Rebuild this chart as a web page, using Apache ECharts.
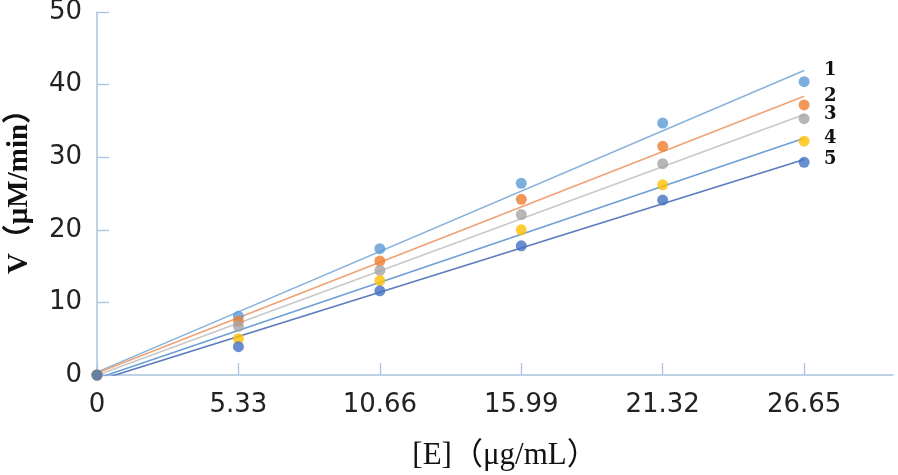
<!DOCTYPE html>
<html>
<head>
<meta charset="utf-8">
<script src="https://cdn.jsdelivr.net/npm/echarts@6/dist/echarts.min.js"></script>
<style>html,body{margin:0;padding:0;background:#fff}#c{width:898px;height:475px}</style>
</head>
<body>
<div id="c"></div>
<script>
// ---- data ----
const xValues = [0, 5.33, 10.66, 15.99, 21.32, 26.65];
const xTickLabels = ['0', '5.33', '10.66', '15.99', '21.32', '26.65'];
const yTickLabels = ['0', '10', '20', '30', '40', '50'];
const seriesNames = ['1', '2', '3', '4', '5'];
const s1 = [0, 8.1, 17.4, 26.4, 34.7, 40.4];
const s2 = [0, 7.4, 15.7, 24.2, 31.5, 37.2];
const s3 = [0, 6.7, 14.4, 22.1, 29.1, 35.3];
const s4 = [0, 5.0, 13.0, 20.0, 26.2, 32.2];
const s5 = [0, 3.9, 11.6, 17.8, 24.1, 29.3];

const allSeries = [s1, s2, s3, s4, s5];
const markerColors = ['#5B9BD5', '#ED7D31', '#A5A5A5', '#FFC000', '#4472C4'];
const lineColors = ['#86b2dc', '#eea276', '#c8c8c8', '#6c9fd6', '#5a7bbd'];

// linear least squares trendline (as the source's trendlines)
function fit(ys) {
  const n = xValues.length;
  const mx = xValues.reduce((a, b) => a + b, 0) / n;
  const my = ys.reduce((a, b) => a + b, 0) / n;
  let sxy = 0, sxx = 0;
  for (let i = 0; i < n; i++) {
    sxy += (xValues[i] - mx) * (ys[i] - my);
    sxx += (xValues[i] - mx) * (xValues[i] - mx);
  }
  const a = sxy / sxx;
  return { a: a, b: my - a * mx };
}

const series = [];
allSeries.forEach((ys, k) => {
  const f = fit(ys);
  const x0 = xValues[0], x1 = xValues[xValues.length - 1];
  series.push({
    name: seriesNames[k] + '_trend',
    type: 'line',
    data: [[x0, f.a * x0 + f.b], [x1, f.a * x1 + f.b]],
    symbol: 'none',
    silent: true,
    lineStyle: { color: lineColors[k], width: 1.6 },
    z: 2,
    endLabel: {
      show: true,
      formatter: () => seriesNames[k],
      distance: 20,
      color: '#111',
      fontFamily: 'DejaVu Serif',
      fontWeight: 'bold',
      fontSize: 18
    }
  });
});
allSeries.forEach((ys, k) => {
  series.push({
    name: seriesNames[k],
    type: 'scatter',
    data: xValues.map((x, i) => [x, ys[i]]),
    symbol: 'circle',
    symbolSize: 11,
    itemStyle: { color: markerColors[k] },
    z: 3
  });
});

const axisColor = '#a9c3e0';
const chart = echarts.init(document.getElementById('c'));
chart.setOption({
  animation: false,
  grid: { left: 97, right: 5, top: 12, bottom: 100, containLabel: false, outerBoundsMode: 'none' },
  xAxis: {
    type: 'value',
    min: 0,
    max: 30,
    interval: 5.33,
    name: '[E]（μg/mL）',
    nameLocation: 'middle',
    nameGap: 65,
    nameTextStyle: { fontFamily: '"Liberation Serif", "Noto Sans CJK SC"', fontSize: 31, color: '#111', padding: [0, 0, 0, 20] },
    axisLine: { lineStyle: { color: axisColor, width: 1.5 } },
    axisTick: { show: true, inside: true, length: 12, customValues: xValues, lineStyle: { color: axisColor, width: 1.3 } },
    axisLabel: {
      customValues: xValues,
      formatter: (v) => xTickLabels[xValues.indexOf(v)],
      margin: 17,
      fontSize: 26,
      fontFamily: 'DejaVu Sans',
      color: '#222'
    },
    splitLine: { show: false }
  },
  yAxis: {
    type: 'value',
    min: 0,
    max: 50,
    interval: 10,
    name: 'V（μM/min）',
    nameLocation: 'middle',
    nameGap: 63,
    nameRotate: 90,
    nameTextStyle: { fontFamily: '"Liberation Serif", "Noto Sans CJK SC"', fontWeight: 'bold', fontSize: 29, color: '#111', padding: [0, 0, 0, 18] },
    axisLine: { show: true, lineStyle: { color: axisColor, width: 1.5 } },
    axisTick: { show: true, inside: true, length: 12, lineStyle: { color: axisColor, width: 1.3 } },
    axisLabel: {
      formatter: (v) => yTickLabels[Math.round(v / 10)],
      margin: 15,
      fontSize: 26,
      fontFamily: 'DejaVu Sans',
      color: '#222'
    },
    splitLine: { show: false }
  },
  series: series
});
</script>
</body>
</html>
